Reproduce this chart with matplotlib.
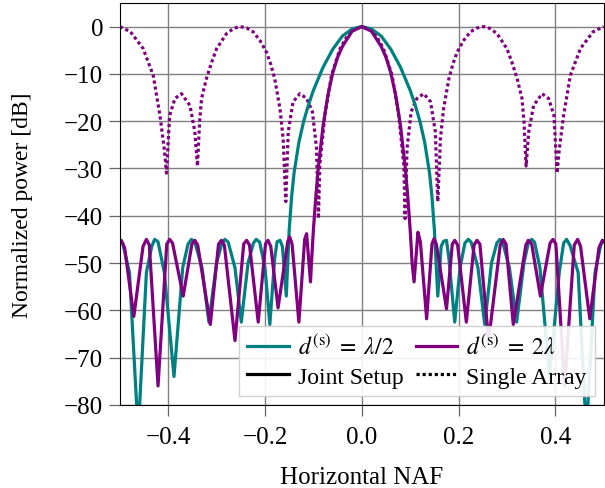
import matplotlib.pyplot as plt

plt.rcParams['font.family'] = ['Liberation Serif', 'DejaVu Serif']
plt.rcParams['mathtext.fontset'] = 'stix'

# joint setup, d = lambda/2 (teal)
naf_half = [-0.500, -0.494, -0.480, -0.462, -0.445, -0.434, -0.428, -0.421, -0.408, -0.388,
            -0.370, -0.359, -0.352, -0.345, -0.330, -0.316, -0.300, -0.289, -0.283, -0.276,
            -0.262, -0.249, -0.235, -0.224, -0.218, -0.211, -0.200, -0.190, -0.180, -0.175,
            -0.169, -0.164, -0.156, -0.150, -0.145, -0.140, -0.130, -0.120, -0.110, -0.100,
            -0.080, -0.060, -0.040, -0.020, 0.000, 0.020, 0.040, 0.060, 0.080, 0.100,
            0.110, 0.120, 0.130, 0.140, 0.145, 0.150, 0.157, 0.164, 0.169, 0.175,
            0.180, 0.192, 0.203, 0.213, 0.220, 0.226, 0.240, 0.254, 0.268, 0.279,
            0.285, 0.291, 0.305, 0.320, 0.335, 0.344, 0.351, 0.357, 0.368, 0.388,
            0.408, 0.417, 0.423, 0.430, 0.447, 0.464, 0.482, 0.494, 0.500]
pow_half = [-45.3, -45.8, -52.0, -86.0, -52.0, -46.5, -45.0, -45.5, -52.0, -74.0,
            -51.0, -46.0, -45.0, -45.6, -51.0, -62.5, -50.0, -45.8, -45.0, -45.6,
            -51.0, -62.5, -50.0, -45.8, -45.0, -45.6, -51.0, -63.0, -49.0, -45.5,
            -45.2, -46.5, -57.0, -43.0, -36.0, -31.0, -24.5, -20.0, -16.5, -13.5,
            -8.6, -4.8, -2.0, -0.5, 0.0, -0.5, -2.0, -4.8, -8.6, -13.5,
            -16.5, -20.0, -24.5, -31.0, -36.0, -43.0, -57.0, -46.5, -45.4, -45.2,
            -49.0, -62.5, -51.0, -45.8, -45.0, -45.6, -51.0, -63.0, -50.0, -45.8,
            -45.0, -45.6, -51.0, -62.5, -50.0, -45.8, -45.0, -45.6, -51.0, -74.0,
            -52.0, -45.8, -45.0, -46.2, -52.0, -86.0, -52.0, -46.0, -45.5]

# joint setup, d = 2 lambda (purple)
naf_two = [-0.500, -0.497, -0.490, -0.471, -0.452, -0.445, -0.439, -0.421, -0.403, -0.397,
           -0.391, -0.369, -0.351, -0.345, -0.339, -0.313, -0.296, -0.290, -0.284, -0.262,
           -0.244, -0.238, -0.232, -0.214, -0.199, -0.194, -0.188, -0.173, -0.153, -0.149,
           -0.144, -0.130, -0.118, -0.114, -0.106, -0.104, -0.100, -0.095, -0.090, -0.080,
           -0.070, -0.060, -0.050, -0.040, -0.020, 0.000, 0.020, 0.040, 0.050, 0.060,
           0.070, 0.080, 0.090, 0.095, 0.100, 0.104, 0.108, 0.116, 0.121, 0.134,
           0.145, 0.149, 0.154, 0.175, 0.187, 0.192, 0.198, 0.216, 0.232, 0.238,
           0.244, 0.262, 0.286, 0.292, 0.298, 0.313, 0.339, 0.344, 0.351, 0.369,
           0.389, 0.395, 0.401, 0.419, 0.439, 0.446, 0.452, 0.471, 0.490, 0.497, 0.500]
pow_two = [-45.5, -45.2, -46.8, -61.3, -46.5, -45.0, -46.2, -76.0, -46.0, -45.0,
           -45.8, -57.0, -46.0, -45.2, -46.2, -63.0, -46.0, -45.2, -46.2, -66.4,
           -46.0, -45.2, -46.2, -62.5, -46.0, -45.2, -46.5, -59.5, -45.5, -44.5,
           -46.0, -62.5, -45.0, -43.8, -54.0, -50.0, -43.0, -36.0, -30.0, -21.0,
           -14.5, -9.8, -6.5, -4.2, -1.0, 0.0, -1.0, -4.2, -6.5, -9.8,
           -14.5, -21.0, -30.0, -36.0, -43.0, -50.0, -54.0, -43.5, -45.5, -61.8,
           -46.0, -44.9, -46.0, -59.7, -46.0, -45.2, -46.2, -62.5, -46.2, -45.2,
           -46.0, -66.4, -46.2, -45.0, -46.0, -63.0, -46.2, -45.2, -46.0, -57.0,
           -45.8, -45.0, -46.0, -76.0, -46.2, -45.0, -46.5, -61.8, -46.8, -45.2, -45.3]

# single array, d = 2 lambda (purple dotted)
naf_single = [-0.500, -0.478, -0.452, -0.431, -0.417, -0.408, -0.4035, -0.397, -0.386, -0.3725,
              -0.355, -0.345, -0.3395, -0.335, -0.331, -0.321, -0.310, -0.300, -0.2795, -0.265,
              -0.252, -0.238, -0.2245, -0.210, -0.197, -0.188, -0.180, -0.169, -0.1625, -0.157,
              -0.152, -0.142, -0.128, -0.114, -0.102, -0.0935, -0.0895, -0.0868, -0.0764, -0.0626,
              -0.045, -0.025, 0.000, 0.025, 0.045, 0.0626, 0.0764, 0.0868, 0.0895, 0.0935,
              0.102, 0.114, 0.128, 0.142, 0.152, 0.157, 0.1625, 0.169, 0.180, 0.188,
              0.197, 0.210, 0.2245, 0.238, 0.252, 0.265, 0.2795, 0.300, 0.310, 0.321,
              0.331, 0.335, 0.3395, 0.345, 0.355, 0.3725, 0.386, 0.397, 0.4035, 0.408,
              0.417, 0.431, 0.452, 0.478, 0.500]
pow_single = [0.0, -1.1, -4.6, -10.3, -18.8, -26.0, -31.0, -18.8, -15.2, -14.2,
              -16.7, -22.2, -29.5, -20.0, -15.2, -11.0, -7.5, -4.7, -1.5, -0.4,
              0.0, -0.3, -1.1, -3.0, -5.4, -8.0, -11.0, -17.4, -23.7, -37.0,
              -22.3, -15.9, -14.2, -15.2, -18.0, -25.8, -40.6, -29.3, -18.8, -10.3,
              -4.7, -1.1, 0.0, -1.1, -4.7, -10.3, -18.8, -29.3, -40.6, -25.8,
              -18.0, -15.2, -14.2, -15.9, -22.3, -37.0, -23.7, -17.4, -11.0, -8.0,
              -5.4, -3.0, -1.1, -0.3, 0.0, -0.4, -1.5, -4.7, -7.5, -11.0,
              -15.2, -20.0, -29.5, -22.2, -16.7, -14.2, -15.2, -18.8, -31.0, -26.0,
              -18.8, -10.3, -4.6, -1.1, 0.0]

teal = '#008080'
purple = '#800080'

fig = plt.figure(figsize=(6.05, 4.89), dpi=100)
ax = fig.add_axes([0.198, 0.170, 0.800, 0.822])

ax.plot(naf_single, pow_single, color=purple, lw=2.3, linestyle=(0, (1, 0.9)))
ax.plot(naf_half, pow_half, color=teal, lw=2.3)
ax.plot(naf_two, pow_two, color=purple, lw=2.3)

ax.set_xlim(-0.5, 0.5)
ax.set_ylim(-80, 5)
ax.set_xticks([-0.4, -0.2, 0.0, 0.2, 0.4])
ax.set_yticks(range(-80, 1, 10))
ax.grid(True, color='0.5', lw=1.0)
ax.set_axisbelow(True)
ax.tick_params(direction='out', length=8, width=0.9, color='0.4', labelsize=18, pad=4)
ax.tick_params(axis='x', pad=7)
ax.set_xlabel('Horizontal NAF', fontsize=18, labelpad=13)
ax.set_ylabel('Normalized power [dB]', fontsize=17)
ax.yaxis.set_label_coords(-0.18, 0.5)

h1, = ax.plot([], [], color=teal, lw=2.3, label=r'$d^{(\mathrm{s})} \;=\; \lambda/2$')
h2, = ax.plot([], [], color='black', lw=2.3, label='Joint Setup')
h3, = ax.plot([], [], color=purple, lw=2.3, label=r'$d^{(\mathrm{s})} \;=\; 2\lambda$')
h4, = ax.plot([], [], color='black', lw=2.3, linestyle=(0, (1, 0.9)), label='Single Array')
ax.legend(handles=[h1, h2, h3, h4], ncol=2, loc='lower right', fontsize=17,
          bbox_to_anchor=(0.982, 0.022), fancybox=False, framealpha=0.9,
          edgecolor='0.8', handlelength=1.75, columnspacing=0.5,
          handletextpad=0.4, borderpad=0.35, labelspacing=0.3, borderaxespad=0)

fig.savefig('out.png', dpi=100)
